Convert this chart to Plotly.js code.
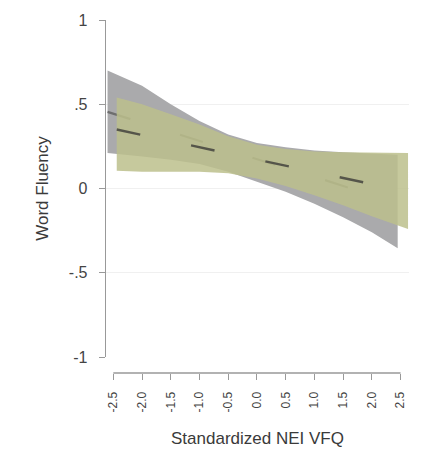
<!DOCTYPE html>
<html>
<head>
<meta charset="utf-8">
<script src="https://cdn.plot.ly/plotly-3.0.1.min.js"></script>
<style>html,body{margin:0;padding:0;background:#fff;}#chart{width:423px;height:467px;}</style>
</head>
<body>
<div id="chart"></div>
<script>
// Group A (grey band)
var xA     = [-2.6, -2.0, -1.5, -1.0, -0.5, 0.0, 0.5, 1.0, 1.5, 2.0, 2.45];
var upperA = [0.70, 0.61, 0.50, 0.40, 0.32, 0.27, 0.245, 0.225, 0.215, 0.205, 0.20];
var lowerA = [0.21, 0.19, 0.17, 0.145, 0.10, 0.04, -0.02, -0.09, -0.17, -0.26, -0.355];
var meanA  = [0.455, 0.39, 0.335, 0.28, 0.23, 0.175, 0.12, 0.07, 0.015, -0.04, -0.08];
// Group B (olive band)
var xB     = [-2.44, -2.0, -1.5, -1.0, -0.5, 0.0, 0.5, 1.0, 1.5, 2.0, 2.63];
var upperB = [0.54, 0.50, 0.44, 0.38, 0.31, 0.26, 0.235, 0.22, 0.215, 0.213, 0.21];
var lowerB = [0.105, 0.10, 0.10, 0.10, 0.09, 0.06, 0.015, -0.04, -0.10, -0.165, -0.24];
var meanB  = [0.35, 0.318, 0.281, 0.245, 0.208, 0.172, 0.135, 0.099, 0.062, 0.026, -0.02];

var xTicks = [-2.5, -2.0, -1.5, -1.0, -0.5, 0.0, 0.5, 1.0, 1.5, 2.0, 2.5];
var xTickText = ['-2.5', '-2.0', '-1.5', '-1.0', '-0.5', '0.0', '0.5', '1.0', '1.5', '2.0', '2.5'];
var yTicks = [-1, -0.5, 0, 0.5, 1];
var yTickText = ['-1', '-.5', '0', '.5', '1'];

function band(x, up, lo) {
  return {
    x: x.concat(x.slice().reverse()),
    y: up.concat(lo.slice().reverse())
  };
}
var bA = band(xA, upperA, lowerA);
var bB = band(xB, upperB, lowerB);

var traces = [
  {x: bA.x, y: bA.y, type: 'scatter', mode: 'lines', fill: 'toself',
   fillcolor: 'rgba(170,170,172,1)', line: {width: 0}, hoverinfo: 'skip', showlegend: false},
  {x: xA, y: meanA, type: 'scatter', mode: 'lines',
   line: {color: '#6e6e6e', width: 2.2, dash: '24px,52px'}, showlegend: false},
  {x: bB.x, y: bB.y, type: 'scatter', mode: 'lines', fill: 'toself',
   fillcolor: 'rgba(188,192,140,0.85)', line: {width: 0}, hoverinfo: 'skip', showlegend: false},
  {x: xB, y: meanB, type: 'scatter', mode: 'lines',
   line: {color: '#55554a', width: 2.4, dash: '24px,52px'}, showlegend: false}
];

var layout = {
  width: 423, height: 467,
  margin: {l: 106, r: 14, t: 20, b: 94},
  paper_bgcolor: '#ffffff', plot_bgcolor: '#ffffff',
  font: {family: 'Liberation Sans, Arial, sans-serif', color: '#3a3a3a'},
  showlegend: false,
  xaxis: {
    range: [-2.627, 2.647],
    tickmode: 'array', tickvals: xTicks, ticktext: xTickText,
    tickangle: -90, tickfont: {size: 12, color: '#444'},
    ticks: 'outside', ticklen: 6, tickcolor: '#999', tickwidth: 1,
    showgrid: false, zeroline: false, showline: false,
    anchor: 'free', position: 0,
    ticklabelstandoff: 7,
    title: {text: 'Standardized NEI VFQ', font: {size: 17, color: '#3a3a3a'}, standoff: 20},
    automargin: false
  },
  yaxis: {
    range: [-1, 1], domain: [0.0453, 1],
    tickmode: 'array', tickvals: yTicks, ticktext: yTickText,
    tickfont: {size: 16, color: '#444'},
    ticks: 'outside', ticklen: 6, tickcolor: '#999', tickwidth: 1,
    showgrid: true, gridcolor: '#f0f0f0', gridwidth: 1,
    zeroline: false, showline: true, linecolor: '#999', linewidth: 1.3,
    ticklabelstandoff: 8,
    title: {text: 'Word Fluency', font: {size: 17, color: '#3a3a3a'}, standoff: 16},
    automargin: false
  },
  shapes: [
    {type: 'line', xref: 'x', yref: 'paper', x0: -2.5, x1: 2.5, y0: 0, y1: 0,
     line: {color: '#999', width: 1.3}}
  ]
};

Plotly.newPlot('chart', traces, layout, {displayModeBar: false, staticPlot: true});
</script>
</body>
</html>
